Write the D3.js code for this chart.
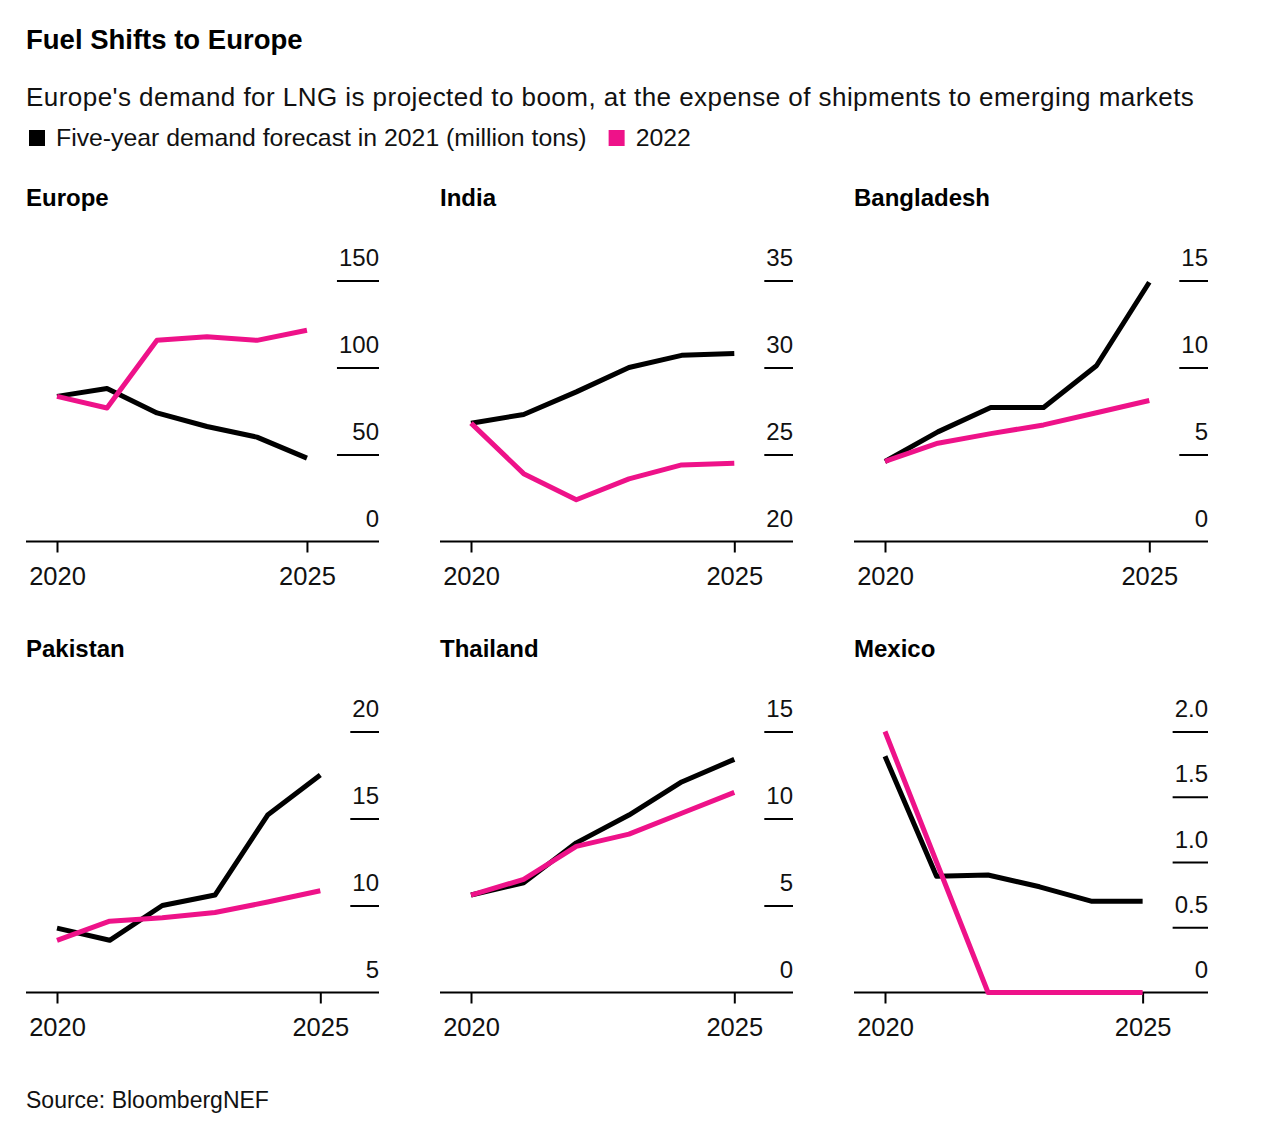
<!DOCTYPE html>
<html>
<head>
<meta charset="utf-8">
<script src="https://cdn.jsdelivr.net/npm/d3@7"></script>
<style>
  body { margin: 0; background: #fff; }
  svg { font-family: "Liberation Sans", Arial, sans-serif; }
</style>
</head>
<body>
<svg id="chart"></svg>
<script>
// ----- data (million tons)
const years = [2020, 2021, 2022, 2023, 2024, 2025];
const x_ticks = [2020, 2025];

const europe_2021 = [83.4, 87.9, 73.9, 66.1, 60.0, 47.9];
const europe_2022 = [83.4, 76.7, 115.6, 117.7, 115.6, 121.4];
const india_2021 = [26.8, 27.3, 28.6, 30.0, 30.7, 30.8];
const india_2022 = [26.8, 23.9, 22.4, 23.6, 24.4, 24.5];
const bangladesh_2021 = [4.6, 6.3, 7.7, 7.7, 10.1, 14.9];
const bangladesh_2022 = [4.6, 5.65, 6.2, 6.7, 7.4, 8.1];
const pakistan_2021 = [8.7, 8.0, 10.0, 10.6, 15.2, 17.5];
const pakistan_2022 = [8.0, 9.1, 9.3, 9.6, 10.2, 10.85];
const thailand_2021 = [5.6, 6.3, 8.6, 10.2, 12.1, 13.4];
const thailand_2022 = [5.6, 6.5, 8.4, 9.1, 10.3, 11.5];
const mexico_2021 = [1.81, 0.89, 0.9, 0.81, 0.70, 0.70];
const mexico_2022 = [2.0, 1.0, 0, 0, 0, 0];

const europe_ticks = [0, 50, 100, 150];
const india_ticks = [20, 25, 30, 35];
const bangladesh_ticks = [0, 5, 10, 15];
const pakistan_ticks = [5, 10, 15, 20];
const thailand_ticks = [0, 5, 10, 15];
const mexico_ticks = [0, 0.5, 1.0, 1.5, 2.0];

const panel_names = ["Europe", "India", "Bangladesh", "Pakistan", "Thailand", "Mexico"];
const panel_2021 = [europe_2021, india_2021, bangladesh_2021, pakistan_2021, thailand_2021, mexico_2021];
const panel_2022 = [europe_2022, india_2022, bangladesh_2022, pakistan_2022, thailand_2022, mexico_2022];
const panel_ticks = [europe_ticks, india_ticks, bangladesh_ticks, pakistan_ticks, thailand_ticks, mexico_ticks];

const series_labels = ["Five-year demand forecast in 2021 (million tons)", "2022"];
const series_colors = ["#000000", "#ee1289"];

// ----- layout
const width = 1280, height = 1137;
const col_left = [26, 440, 854];
const col_right = [379, 793, 1208];
const row_base = [541.5, 992.5];
const plot_h = 261;

const svg = d3.select("#chart")
    .attr("width", width)
    .attr("height", height);

// Header
svg.append("text")
    .attr("x", 26).attr("y", 49)
    .attr("font-size", 27.5).attr("font-weight", "bold")
    .text("Fuel Shifts to Europe");

svg.append("text")
    .attr("x", 26).attr("y", 106)
    .attr("font-size", 26)
    .attr("letter-spacing", 0.45)
    .attr("fill", "#111")
    .text("Europe's demand for LNG is projected to boom, at the expense of shipments to emerging markets");

// Legend
const legend = svg.append("g").attr("transform", "translate(29,130)");
let legend_x = 0;
series_labels.forEach((label, i) => {
    const item = legend.append("g").attr("transform", `translate(${legend_x},0)`);
    item.append("rect")
        .attr("width", 16).attr("height", 16)
        .attr("fill", series_colors[i]);
    const t = item.append("text")
        .attr("x", 27).attr("y", 16)
        .attr("font-size", 24.8)
        .attr("fill", "#111")
        .text(label);
    legend_x += 27 + t.node().getComputedTextLength() + 22;
});

// Helper to measure tick label widths before building the axis
function label_width(str) {
    const t = svg.append("text").attr("font-size", 24).text(str);
    const w = t.node().getComputedTextLength();
    t.remove();
    return w;
}

const tick_format = (ticks) => (d) => {
    if (d === 0) return "0";
    return ticks.some(v => v % 1 !== 0) ? d3.format(".1f")(d) : d3.format("d")(d);
};

// Small multiples
panel_names.forEach((name, i) => {
    const col = i % 3, row = Math.floor(i / 3);
    const left = col_left[col], right = col_right[col], base = row_base[row];
    const ticks = panel_ticks[i];
    const fmt = tick_format(ticks);

    const grid_w = d3.max(ticks, d => label_width(fmt(d))) + 2;

    const x = d3.scaleLinear()
        .domain([years[0], years[years.length - 1]])
        .range([left + 31, right - grid_w - 30]);
    const y = d3.scaleLinear()
        .domain(d3.extent(ticks))
        .range([base, base - plot_h]);

    const g = svg.append("g");

    // Panel title
    g.append("text")
        .attr("x", left).attr("y", base - 336)
        .attr("font-size", 24).attr("font-weight", "bold")
        .text(name);

    // Y axis on the right: short gridlines with labels sitting above them
    const y_axis = g.append("g")
        .attr("transform", `translate(${right},0)`)
        .call(d3.axisLeft(y).tickValues(ticks).tickFormat(fmt).tickSize(grid_w).tickSizeOuter(0));
    y_axis.select(".domain").remove();
    y_axis.selectAll("line")
        .attr("stroke", "#000")
        .attr("stroke-width", 2)
        .filter(d => d === ticks[0]).remove();
    y_axis.selectAll("text")
        .attr("x", 0).attr("y", -15).attr("dy", 0)
        .attr("text-anchor", "end")
        .attr("font-size", 24)
        .attr("font-family", null)
        .attr("fill", "#111");

    // Baseline
    g.append("line")
        .attr("x1", left).attr("x2", right)
        .attr("y1", base).attr("y2", base)
        .attr("stroke", "#000").attr("stroke-width", 2);

    // X axis
    const x_axis = g.append("g")
        .attr("transform", `translate(0,${base})`)
        .call(d3.axisBottom(x).tickValues(x_ticks).tickFormat(d3.format("d")).tickSize(11).tickPadding(14));
    x_axis.select(".domain").remove();
    x_axis.selectAll("line").attr("stroke", "#000").attr("stroke-width", 2);
    x_axis.selectAll("text")
        .attr("font-size", 25.5)
        .attr("font-family", null)
        .attr("fill", "#111");

    // Lines
    const line = d3.line()
        .x((d, j) => x(years[j]))
        .y(d => y(d));

    [panel_2021[i], panel_2022[i]].forEach((values, s) => {
        g.append("path")
            .datum(values)
            .attr("d", line)
            .attr("fill", "none")
            .attr("stroke", series_colors[s])
            .attr("stroke-width", 5)
            .attr("stroke-linejoin", "round");
    });
});

// Source
svg.append("text")
    .attr("x", 26).attr("y", 1108)
    .attr("font-size", 23)
    .attr("fill", "#111")
    .text("Source: BloombergNEF");
</script>
</body>
</html>
